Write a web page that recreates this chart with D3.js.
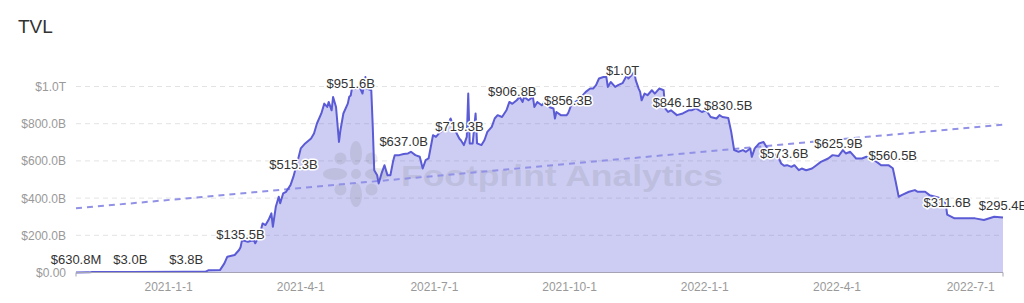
<!DOCTYPE html>
<html>
<head>
<meta charset="utf-8">
<script src="https://cdn.jsdelivr.net/npm/d3@7"></script>
<style>
  html, body { margin: 0; padding: 0; background: #fff; }
  svg { display: block; font-family: "Liberation Sans", Arial, sans-serif; }
</style>
</head>
<body>
<svg id="chart" width="1024" height="303"></svg>
<script>
// ---------------- data (values in billions USD) ----------------
const dates = [
"2020-10-30","2020-11-08","2020-11-10","2020-12-06","2021-01-13","2021-01-26","2021-01-28","2021-02-05","2021-02-08","2021-02-10",
"2021-02-15","2021-02-18","2021-02-19","2021-02-20","2021-02-24","2021-02-28","2021-03-01","2021-03-04","2021-03-06","2021-03-08",
"2021-03-10","2021-03-12","2021-03-13","2021-03-15","2021-03-17","2021-03-18","2021-03-20","2021-03-22","2021-03-25","2021-03-27",
"2021-03-30","2021-04-01","2021-04-04","2021-04-08","2021-04-10","2021-04-12","2021-04-15","2021-04-17","2021-04-19","2021-04-20",
"2021-04-22","2021-04-23","2021-04-25","2021-04-27","2021-04-28","2021-04-30","2021-05-03","2021-05-04","2021-05-05","2021-05-06",
"2021-05-08","2021-05-11","2021-05-13","2021-05-15","2021-05-16","2021-05-19","2021-05-20","2021-05-21","2021-05-23","2021-05-24",
"2021-05-26","2021-05-28","2021-05-30","2021-06-01","2021-06-03","2021-06-04","2021-06-07","2021-06-10","2021-06-13","2021-06-15",
"2021-06-18","2021-06-21","2021-06-23","2021-06-25","2021-06-27","2021-06-30","2021-07-02","2021-07-05","2021-07-09","2021-07-12",
"2021-07-15","2021-07-18","2021-07-19","2021-07-21","2021-07-23","2021-07-24","2021-07-25","2021-07-27","2021-07-29","2021-07-30",
"2021-08-02","2021-08-04","2021-08-06","2021-08-09","2021-08-11","2021-08-13","2021-08-16","2021-08-19","2021-08-21","2021-08-23",
"2021-08-26","2021-08-28","2021-08-30","2021-08-31","2021-09-03","2021-09-06","2021-09-07","2021-09-09","2021-09-12","2021-09-14",
"2021-09-17","2021-09-20","2021-09-21","2021-09-22","2021-09-25","2021-09-29","2021-09-30","2021-10-02","2021-10-05","2021-10-09",
"2021-10-12","2021-10-15","2021-10-17","2021-10-19","2021-10-21","2021-10-24","2021-10-26","2021-10-27","2021-10-29","2021-11-01",
"2021-11-03","2021-11-06","2021-11-09","2021-11-10","2021-11-12","2021-11-14","2021-11-15","2021-11-17","2021-11-18","2021-11-19",
"2021-11-21","2021-11-23","2021-11-26","2021-11-28","2021-12-01","2021-12-04","2021-12-05","2021-12-07","2021-12-09","2021-12-13",
"2021-12-17","2021-12-21","2021-12-23","2021-12-26","2021-12-30","2022-01-02","2022-01-05","2022-01-09","2022-01-11","2022-01-13",
"2022-01-17","2022-01-19","2022-01-21","2022-01-24","2022-01-27","2022-01-29","2022-02-01","2022-02-02","2022-02-04","2022-02-07",
"2022-02-10","2022-02-12","2022-02-15","2022-02-20","2022-02-22","2022-02-24","2022-02-26","2022-03-01","2022-03-03","2022-03-06",
"2022-03-08","2022-03-11","2022-03-15","2022-03-18","2022-03-21","2022-03-26","2022-03-29","2022-04-02","2022-04-05","2022-04-07",
"2022-04-10","2022-04-12","2022-04-14","2022-04-18","2022-04-21","2022-04-24","2022-04-28","2022-05-01","2022-05-06","2022-05-09",
"2022-05-11","2022-05-13","2022-05-15","2022-05-20","2022-05-24","2022-05-26","2022-05-31","2022-06-03","2022-06-07","2022-06-11",
"2022-06-14","2022-06-15","2022-06-20","2022-06-25","2022-07-04","2022-07-10","2022-07-17","2022-07-23"
];
const tvl = [
0.6308,0.7,3.0,3.0,3.8,3.9,12,13,49,85,
94,121,135.5,174,165,174,157,201,264,255,
282,318,246,353,407,372,425,434,470,515.3,
604,667,694,720,747,801,855,908,890,917,
872,944,890,702,765,855,908,945,951.6,998,
989,998,962,1051,989,980,783,550,523,479,
533,577,523,523,604,631,631,637.0,640,649,
631,622,559,604,613,738,729,756,774,828,
765,719.3,711,685,729,962,694,694,855,694,
685,711,756,783,828,846,836,872,917,906.8,
926,944,917,944,926,944,890,917,899,917,
890,882,828,863,846,846,856.3,899,917,944,
971,989,989,1007,1043,1051,1051,998,1024,998,
1007,1018,1060,1043,1060,1078,1034,989,971,926,
962,953,980,962,989,980,882,863,872,846.1,
855,872,872,882,863,872,836,828,846,836,
830.5,756,658,649,658,649,667,622,667,694,
702,675,649,622,586,573.6,577,568,577,550,
559,550,559,577,595,613,631,625.9,658,640,
649,631,613,613,622,613,595,577,577,560.5,
487,407,416,434,443,434,434,416,407,398,
372,311.6,291,291,291,282,300,295.4
];
// dates at which the value labels are shown
const labelDates = [
"2020-10-30","2020-12-06","2021-01-13","2021-02-19","2021-03-27","2021-05-05",
"2021-06-10","2021-07-18","2021-08-23","2021-09-30","2021-11-06","2021-12-13",
"2022-01-17","2022-02-24","2022-04-02","2022-05-09","2022-06-15","2022-07-23"
];
// linear trend line values at the first and last date
const trendValues = [345, 795];
const yTicks = [0, 200, 400, 600, 800, 1000];
const xTicks = ["2021-01-01","2021-04-01","2021-07-01","2021-10-01","2022-01-01","2022-04-01","2022-07-01"];
const title = "TVL";
const watermark = "Footprint Analytics";

// ---------------- drawing ----------------
(function () {
const parse = d3.utcParse("%Y-%m-%d");
const data = dates.map((d, i) => ({ key: d, date: parse(d), value: tvl[i] }));

const svg = d3.select("#chart");
const mLeft = 76, mRight = 1003, mTop = 86.5, mBottom = 272.5;
const lineColor = "#5b5bd6";

const x = d3.scaleUtc().domain(d3.extent(data, d => d.date)).range([mLeft, mRight]);
const y = d3.scaleLinear().domain([0, 1000]).range([mBottom, mTop]);

const fmtVal = v => v >= 1000 ? "$" + (v / 1000).toFixed(1) + "T"
                  : v < 1 ? "$" + (v * 1000).toFixed(1) + "M"
                  : "$" + v.toFixed(1) + "B";
const fmtAxis = v => v === 0 ? "$0.00" : fmtVal(v);
const fmtDate = d => `${d.getUTCFullYear()}-${d.getUTCMonth() + 1}-${d.getUTCDate()}`;

// title
svg.append("text").attr("x", 18).attr("y", 33).attr("font-size", 19)
  .attr("fill", "#333").text(title);

// grid lines
svg.append("g").selectAll("line").data(yTicks.filter(t => t > 0)).join("line")
  .attr("x1", mLeft).attr("x2", mRight)
  .attr("y1", d => y(d)).attr("y2", d => y(d))
  .attr("stroke", "#e3e3e3").attr("stroke-width", 1).attr("stroke-dasharray", "5,4");

// y axis labels
svg.append("g").selectAll("text").data(yTicks).join("text")
  .attr("x", 66).attr("y", d => y(d) + 4.5)
  .attr("text-anchor", "end").attr("font-size", 12).attr("fill", "#999")
  .text(fmtAxis);

// area
svg.append("path").datum(data)
  .attr("d", d3.area().x(d => x(d.date)).y0(y(0)).y1(d => y(d.value)))
  .attr("fill", lineColor).attr("fill-opacity", 0.3);

// watermark
const wm = svg.append("g").attr("opacity", 0.12).attr("fill", "#555");
const cx = 356, cy = 174;
d3.range(8).forEach(i => {
  const a = i * 45;
  const even = i % 2 === 0;
  const r = even ? 21 : 22;
  wm.append("ellipse")
    .attr("cx", cx).attr("cy", cy - r)
    .attr("rx", even ? 6 : 6).attr("ry", even ? 12 : 6)
    .attr("transform", `rotate(${a},${cx},${cy})`);
});
wm.append("circle").attr("cx", cx).attr("cy", cy).attr("r", 5);
wm.append("text").attr("x", 401).attr("y", 186).attr("font-size", 30).attr("font-weight", "bold")
  .attr("textLength", 322).attr("lengthAdjust", "spacingAndGlyphs").text(watermark);

// trend line
const ext = x.domain();
svg.append("path").datum([0, 1])
  .attr("d", d3.line().x(i => x(ext[i])).y(i => y(trendValues[i])))
  .attr("fill", "none").attr("stroke", "#9191e6").attr("stroke-width", 2).attr("stroke-dasharray", "6,5");

// line
svg.append("path").datum(data)
  .attr("d", d3.line().x(d => x(d.date)).y(d => y(d.value)))
  .attr("fill", "none").attr("stroke", lineColor).attr("stroke-width", 2)
  .attr("stroke-linejoin", "round");

// x axis
svg.append("line").attr("x1", mLeft).attr("x2", mRight).attr("y1", mBottom).attr("y2", mBottom)
  .attr("stroke", "#a4a4b4").attr("stroke-width", 1);
svg.append("g").selectAll("line").data([mLeft, mRight]).join("line")
  .attr("x1", d => d).attr("x2", d => d).attr("y1", mBottom).attr("y2", mBottom + 4)
  .attr("stroke", "#a4a4b4");
svg.append("g").selectAll("text").data(xTicks.map(parse)).join("text")
  .attr("x", d => x(d)).attr("y", 291)
  .attr("text-anchor", "middle").attr("font-size", 12).attr("fill", "#999")
  .text(fmtDate);

// value labels
const byDate = new Map(data.map(d => [d.key, d]));
const labels = labelDates.map(ld => byDate.get(ld));
svg.append("g").selectAll("text").data(labels).join("text")
  .attr("x", d => x(d.date)).attr("y", d => y(d.value) - 8)
  .attr("text-anchor", "middle").attr("font-size", 13).attr("fill", "#333")
  .attr("stroke", "#fff").attr("stroke-width", 3).attr("stroke-linejoin", "round")
  .attr("paint-order", "stroke")
  .text(d => fmtVal(d.value));
})();
</script>
</body>
</html>
